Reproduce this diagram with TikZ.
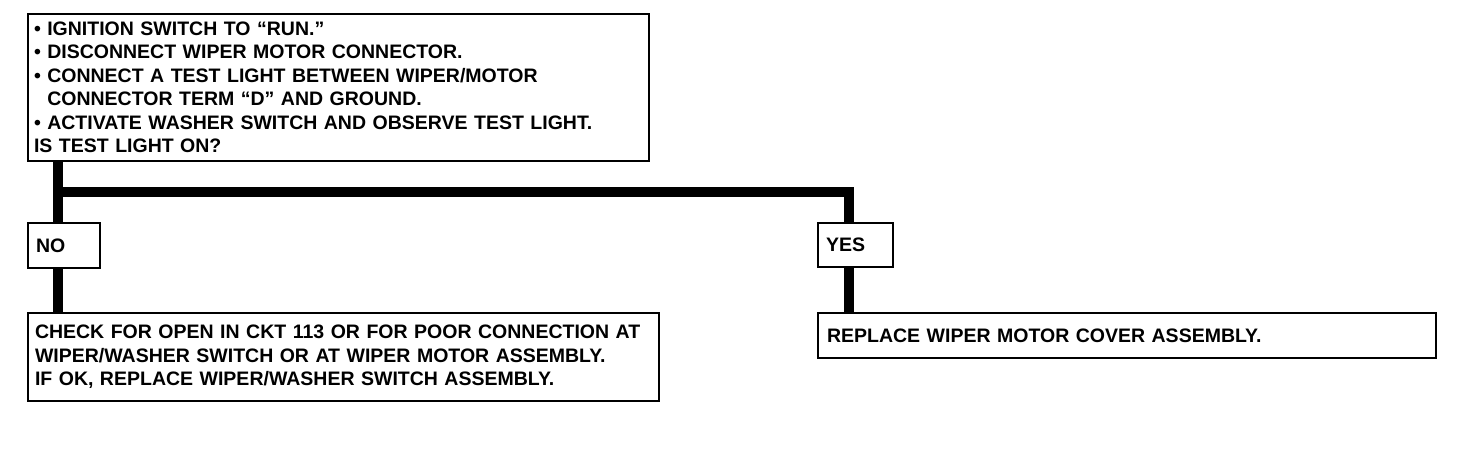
\documentclass[tikz,border=0pt]{standalone}
\usepackage{fontspec}
\setmainfont{Liberation Sans}
\begin{document}
\begin{tikzpicture}[x=1pt,y=-1pt,
  box/.style={draw, line width=2pt, anchor=north west, inner xsep=6pt, inner ysep=0pt, align=left,
    font=\bfseries\fontsize{19.5}{23.5}\selectfont},
  bar/.style={line width=10pt}]
\useasboundingbox[fill=white] (0,0) rectangle (1472,474);
\node[box, minimum width=621pt, minimum height=147pt, text width=609pt] (q) at (27,13)
  {\textbullet\ IGNITION SWITCH TO “RUN.”\\
   \textbullet\ DISCONNECT WIPER MOTOR CONNECTOR.\\
   \textbullet\ CONNECT A TEST LIGHT BETWEEN WIPER/MOTOR\\
   \phantom{\textbullet\ }CONNECTOR TERM “D” AND GROUND.\\
   \textbullet\ ACTIVATE WASHER SWITCH AND OBSERVE TEST LIGHT.\\
   IS TEST LIGHT ON?};
\node[box, minimum width=72pt, minimum height=45pt, text width=56pt, inner xsep=8pt] (no) at (27,222) {NO};
\node[box, minimum width=75pt, minimum height=44pt, text width=59pt, inner xsep=8pt] (yes) at (817,222) {YES};
\node[box, minimum width=631pt, minimum height=88pt, text width=617pt, inner xsep=7pt] (a1) at (27,312)
  {CHECK FOR OPEN IN CKT 113 OR FOR POOR CONNECTION AT\\
   WIPER/WASHER SWITCH OR AT WIPER MOTOR ASSEMBLY.\\
   IF OK, REPLACE WIPER/WASHER SWITCH ASSEMBLY.};
\node[box, minimum width=618pt, minimum height=45pt, text width=600pt, inner xsep=9pt] (a2) at (817,312)
  {REPLACE WIPER MOTOR COVER ASSEMBLY.};
\coordinate (j1) at (58,192);
\coordinate (j2) at (849,192);
\draw[bar] (q.south -| j1) -- (no.north -| j1);
\draw[bar] (j1) -- (j2) -- (yes.north -| j2);
\draw[bar] (no.south -| j1) -- (a1.north -| j1);
\draw[bar] (yes.south -| j2) -- (a2.north -| j2);
\end{tikzpicture}
\end{document}
